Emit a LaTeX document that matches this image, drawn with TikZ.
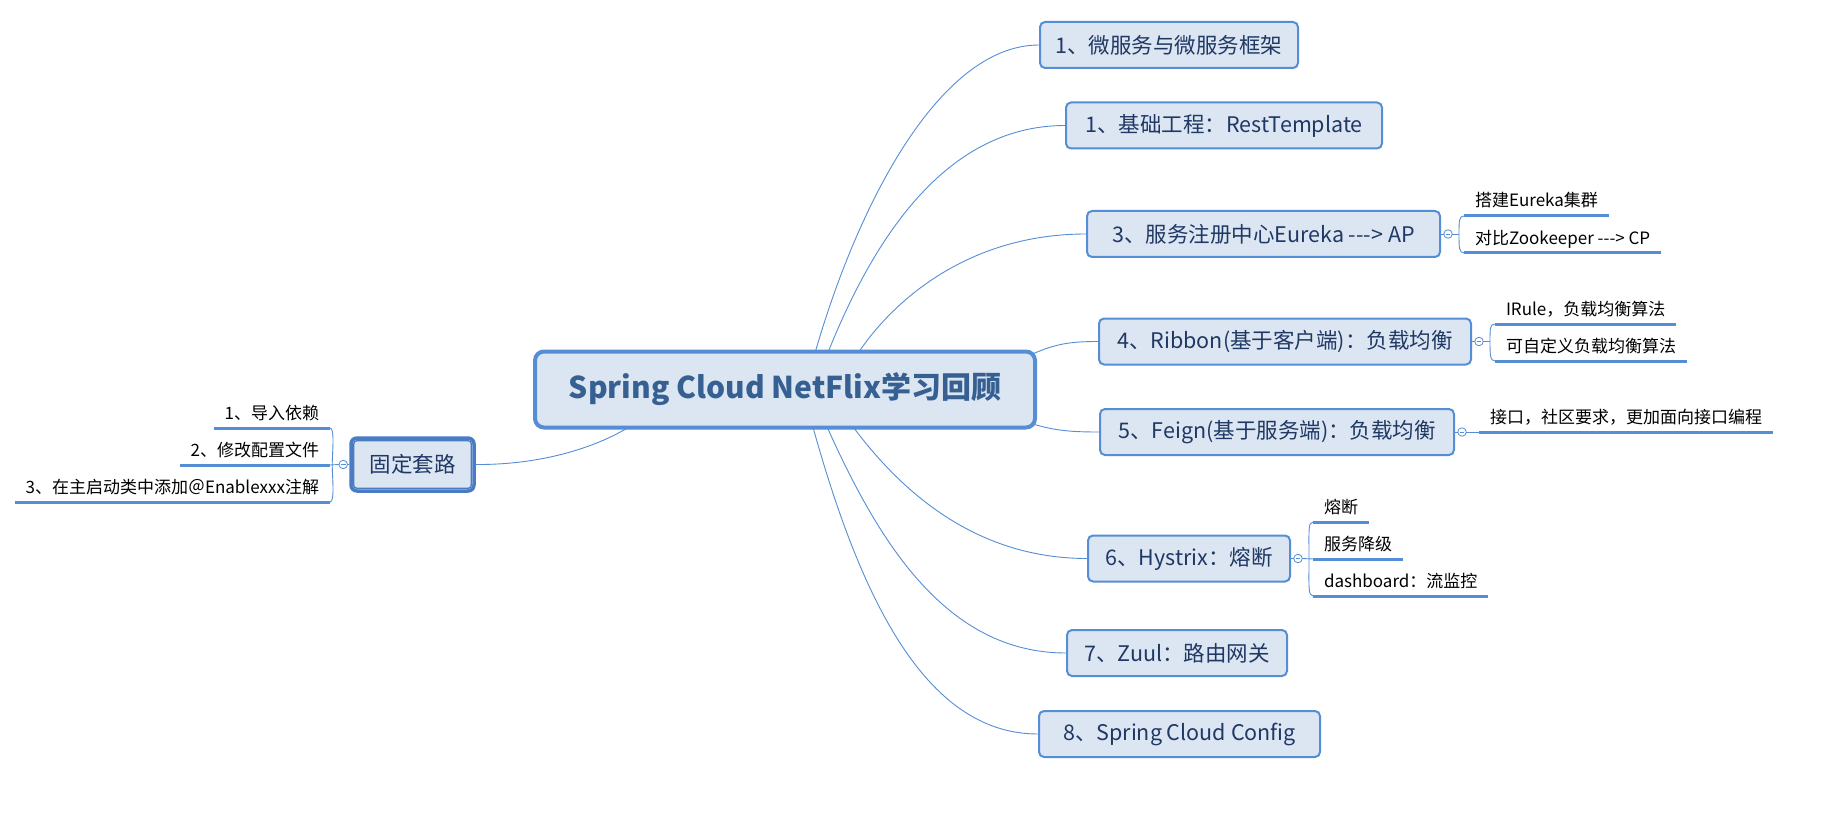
\documentclass[tikz,border=0pt]{standalone}
\usepackage{fontspec}
\newfontfamily\cjk{Noto Sans CJK SC}
\definecolor{boxfill}{HTML}{DCE6F2}
\definecolor{boxline}{HTML}{558ED5}
\definecolor{txt}{HTML}{1F3864}
\definecolor{ctxt}{HTML}{366092}
\definecolor{fline}{HTML}{4A7CC4}
\pgfdeclarelayer{bg}
\pgfdeclarelayer{paper}
\pgfsetlayers{paper,bg,main}
\begin{document}
\begin{tikzpicture}[x=1pt,y=-1pt,
  topic/.style={draw=boxline, fill=boxfill, line width=2pt, rounded corners=5pt,
    minimum height=46pt, inner xsep=4pt, text=txt,
    font=\cjk\fontsize{21.5}{25}\selectfont},
  central/.style={draw=boxline, fill=boxfill, line width=4pt, rounded corners=9pt,
    text=ctxt, font=\cjk\bfseries\fontsize{30}{35}\selectfont,
    minimum width=500pt, minimum height=76pt},
  fixedbox/.style={draw=fline, fill=boxfill, line width=3.5pt, rounded corners=6pt,
    text=txt, font=\cjk\fontsize{21.5}{25}\selectfont,
    minimum width=123pt, minimum height=53pt},
  subt/.style={inner xsep=11pt, inner ysep=0pt, outer sep=0pt, text height=12pt,
    text depth=9pt, text=black, font=\cjk\fontsize{17}{20}\selectfont},
  uline/.style={draw=boxline, line width=3pt},
  conn/.style={draw=boxline, line width=0.9pt},
  coll/.style={circle, draw=boxline, fill=white, line width=0.8pt, minimum size=8.5pt,
    inner sep=0pt, outer sep=0pt,
    path picture={\draw[boxline, line width=0.7pt]
      ([xshift=2pt]path picture bounding box.west) --
      ([xshift=-2pt]path picture bounding box.east);}}
]
\begin{pgfonlayer}{paper}
\fill[white] (0,0) rectangle (1829,813);
\end{pgfonlayer}
\useasboundingbox (0,0) rectangle (1829,813);

% central
\node[central] (c) at (785,389.5) {Spring Cloud NetFlix学习回顾};

% main topics
\node[topic, minimum width=258pt] (t1) at (1169,45) {1、微服务与微服务框架};
\node[topic, minimum width=316pt] (t2) at (1224,125.5) {1、基础工程：RestTemplate};
\node[topic, minimum width=353pt] (t3) at (1263.5,234) {3、服务注册中心Eureka {-}{-}{-}> AP};
\node[topic, minimum width=372pt] (t4) at (1285,341.5) {4、Ribbon(基于客户端)：负载均衡};
\node[topic, minimum width=354pt] (t5) at (1277,432) {5、Feign(基于服务端)：负载均衡};
\node[topic, minimum width=202pt] (t6) at (1189,558.5) {6、Hystrix：熔断};
\node[topic, minimum width=220pt] (t7) at (1177,653) {7、Zuul：路由网关};
\node[topic, minimum width=281pt] (t8) at (1179.5,734) {8、Spring Cloud Config};

% left topic
\node[fixedbox] (f) at (412.5,464.5) {固定套路};
\draw[fline, line width=1.3pt, rounded corners=3pt]
  ([shift={(4.5,4.5)}]f.north west) rectangle ([shift={(-4.5,-4.5)}]f.south east);

% collapse markers
\node[coll] (k3) at ([xshift=7]t3.east) {};
\node[coll] (k4) at ([xshift=7]t4.east) {};
\node[coll] (k5) at ([xshift=7]t5.east) {};
\node[coll] (k6) at ([xshift=7]t6.east) {};
\node[coll] (kf) at ([xshift=-6]f.west) {};
\coordinate (j3) at ([xshift=11]k3.center);
\coordinate (j4) at ([xshift=11]k4.center);
\coordinate (j6) at ([xshift=11]k6.center);
\coordinate (jf) at ([xshift=-11]kf.center);

% sub topics
\node[subt, anchor=south west] (s31) at (1464,216) {搭建Eureka集群};
\node[subt, anchor=south west] (s32) at (1464,253) {对比Zookeeper {-}{-}{-}> CP};
\node[subt, anchor=south west] (s41) at (1495,324) {IRule，负载均衡算法};
\node[subt, anchor=south west] (s42) at (1495,361) {可自定义负载均衡算法};
\node[subt, anchor=south west] (s51) at (1479,432) {接口，社区要求，更加面向接口编程};
\node[subt, anchor=south west] (s61) at (1313,522) {熔断};
\node[subt, anchor=south west] (s62) at (1313,559) {服务降级};
\node[subt, anchor=south west] (s63) at (1313,596) {dashboard：流监控};
\node[subt, anchor=south east] (l1) at (330,428) {1、导入依赖};
\node[subt, anchor=south east] (l2) at (330,465) {2、修改配置文件};
\node[subt, anchor=south east] (l3) at (330,502) {3、在主启动类中添加＠Enablexxx注解};

\foreach \n in {s31,s32,s41,s42,s51,s61,s62,s63,l1,l2,l3}
  \draw[uline] (\n.south west) -- (\n.south east);

\begin{pgfonlayer}{bg}
% central connectors
\draw[conn] (c.center) -- (813,360) .. controls (855,210) and (938,45) .. (t1.west);
\draw[conn] (c.center) -- (825,360) .. controls (868,250) and (940,125.5) .. (t2.west);
\draw[conn] (c.center) -- (855,358) .. controls (885,310) and (960,234) .. (t3.west);
\draw[conn] (c.center) -- (1020,360) .. controls (1050,345) and (1065,341.5) .. (t4.west);
\draw[conn] (c.center) -- (1020,420) .. controls (1050,430) and (1065,432) .. (t5.west);
\draw[conn] (c.center) -- (848,420) .. controls (890,478) and (965,558.5) .. (t6.west);
\draw[conn] (c.center) -- (824,420) .. controls (877,540) and (945,653) .. (t7.west);
\draw[conn] (c.center) -- (811,420) .. controls (863,610) and (930,734) .. (t8.west);
\draw[conn] (f.east) .. controls (540,465) and (600,448) .. (640,420) -- (c.center);
\end{pgfonlayer}

% sub connectors
\draw[conn] (t3.east) -- (k3.west);
\draw[conn] (k3.east) -- (j3);
\draw[conn] (j3) .. controls +(0,-13) and +(-5,0) .. (s31.south west);
\draw[conn] (j3) .. controls +(0,13) and +(-5,0) .. (s32.south west);

\draw[conn] (t4.east) -- (k4.west);
\draw[conn] (k4.east) -- (j4);
\draw[conn] (j4) .. controls +(0,-13) and +(-5,0) .. (s41.south west);
\draw[conn] (j4) .. controls +(0,13) and +(-5,0) .. (s42.south west);

\draw[conn] (t5.east) -- (k5.west);
\draw[conn] (k5.east) -- (s51.south west);

\draw[conn] (t6.east) -- (k6.west);
\draw[conn] (k6.east) -- (s62.south west);
\draw[conn] (j6) .. controls +(0,-28) and +(-5,0) .. (s61.south west);
\draw[conn] (j6) .. controls +(0,28) and +(-5,0) .. (s63.south west);

\draw[conn] (f.west) -- (kf.east);
\draw[conn] (kf.west) -- (l2.south east);
\draw[conn] (jf) .. controls +(0,-13) and +(5,0) .. (l1.south east);
\draw[conn] (jf) .. controls +(0,13) and +(5,0) .. (l3.south east);
\end{tikzpicture}
\end{document}
